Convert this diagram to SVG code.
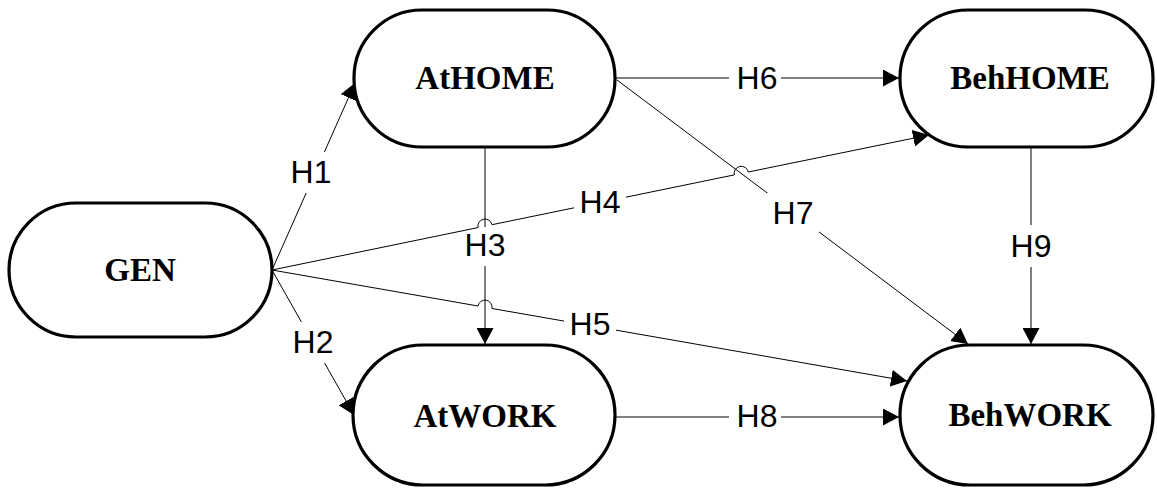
<svg xmlns="http://www.w3.org/2000/svg" width="1157" height="488" viewBox="0 0 1157 488">
<style>
.node{fill:#fff;stroke:#000;stroke-width:3.2}
.nt{font-family:"Liberation Serif","Times New Roman",serif;font-weight:bold;font-size:33px;text-anchor:middle;fill:#000}
.c{fill:none;stroke:#000;stroke-width:1}
.lb{fill:#fff;stroke:none}
.lt{font-family:"Liberation Sans",Arial,sans-serif;font-size:32px;text-anchor:middle;fill:#000}
</style>
<defs>
<marker id="ah" markerUnits="userSpaceOnUse" markerWidth="17" markerHeight="17" refX="16" refY="8.5" orient="auto">
<path d="M0,0 L16,8.5 L0,17 Z" fill="#000"/>
</marker>
</defs>
<g id="connectors">
<g id="c-h3">
<path class="c" d="M485,147 L485,344" marker-end="url(#ah)"/>
<rect class="lb" x="459" y="227" width="52" height="39"/>
<text class="lt" x="485" y="256">H3</text>
</g>
<g id="c-h1">
<path class="c" d="M272,270 L355,83" marker-end="url(#ah)"/>
<rect class="lb" x="285" y="152" width="52" height="41"/>
<text class="lt" x="311" y="183">H1</text>
</g>
<g id="c-h2">
<path class="c" d="M272,270 L354,415" marker-end="url(#ah)"/>
<rect class="lb" x="287" y="322" width="52" height="41"/>
<text class="lt" x="313" y="353">H2</text>
</g>
<g id="c-h4">
<path class="c" d="M272,270 L478,227.6 A7,7 0 0 1 492,224.7 L734.3,174.9 A7,7 0 0 1 748.3,172 L929,135" marker-end="url(#ah)"/>
<rect class="lb" x="574" y="181" width="52" height="41"/>
<text class="lt" x="600" y="213">H4</text>
</g>
<g id="c-h5">
<path class="c" d="M272,270 L478,306 A7,7 0 0 1 492,308.5 L907,381" marker-end="url(#ah)"/>
<rect class="lb" x="564" y="303" width="52" height="41"/>
<text class="lt" x="590" y="335">H5</text>
</g>
<g id="c-h6">
<path class="c" d="M616,78 L899,78" marker-end="url(#ah)"/>
<rect class="lb" x="729" y="58" width="52" height="40"/>
<text class="lt" x="757" y="89">H6</text>
</g>
<g id="c-h7">
<path class="c" d="M617,80 L968,344" marker-end="url(#ah)"/>
<rect class="lb" x="767" y="193" width="52" height="41"/>
<text class="lt" x="793" y="224">H7</text>
</g>
<g id="c-h8">
<path class="c" d="M616,417 L899,417" marker-end="url(#ah)"/>
<rect class="lb" x="729" y="396" width="52" height="40"/>
<text class="lt" x="757" y="427">H8</text>
</g>
<g id="c-h9">
<path class="c" d="M1031,147 L1031,344" marker-end="url(#ah)"/>
<rect class="lb" x="1005" y="225" width="52" height="42"/>
<text class="lt" x="1031" y="257">H9</text>
</g>
</g>
<g id="GEN">
<rect class="node" x="9" y="203" width="263" height="134" rx="67" ry="67"/>
<text class="nt" x="140" y="281">GEN</text>
</g>
<g id="AtHOME">
<rect class="node" x="354" y="10" width="261" height="137" rx="68" ry="68"/>
<text class="nt" x="485" y="89">AtHOME</text>
</g>
<g id="BehHOME">
<rect class="node" x="900" y="10" width="253" height="137" rx="68" ry="68"/>
<text class="nt" x="1030" y="89">BehHOME</text>
</g>
<g id="AtWORK">
<rect class="node" x="353" y="345" width="262" height="140" rx="70" ry="70"/>
<text class="nt" x="485" y="427">AtWORK</text>
</g>
<g id="BehWORK">
<rect class="node" x="900" y="345" width="253" height="140" rx="70" ry="70"/>
<text class="nt" x="1030" y="426">BehWORK</text>
</g>
</svg>
